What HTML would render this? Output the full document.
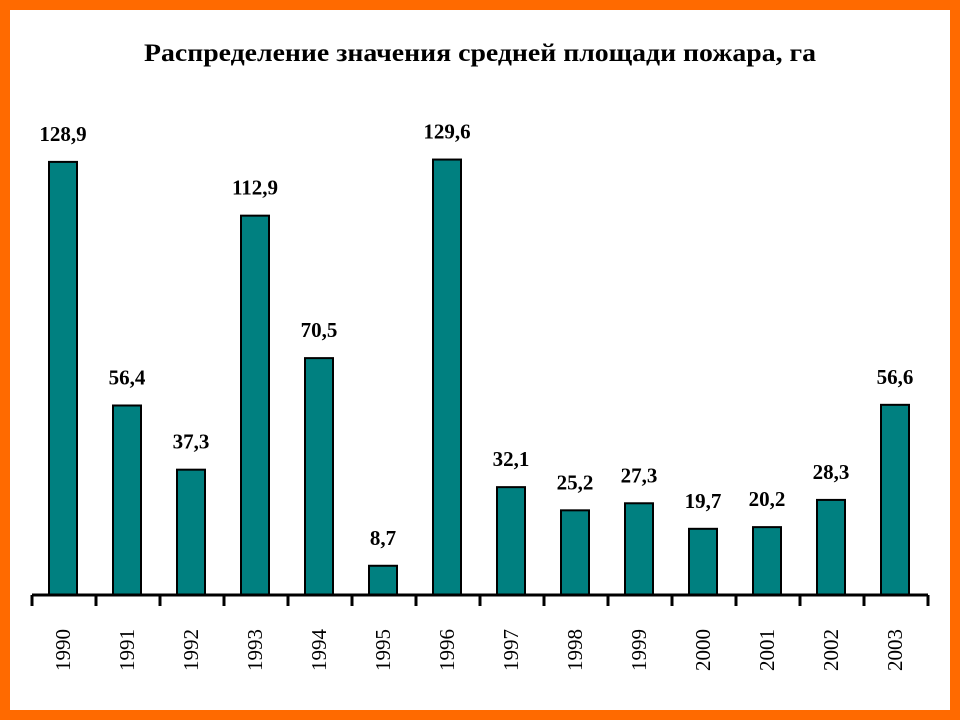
<!DOCTYPE html>
<html><head><meta charset="utf-8"><style>
html,body{margin:0;padding:0}
body{width:960px;height:720px;background:#FF6a00;position:relative;overflow:hidden}
#panel{position:absolute;left:10px;top:10px;width:940px;height:700px;background:#fff}
svg{position:absolute;left:0;top:0}
</style></head><body>
<div id="panel"></div>
<svg id="chart" width="960" height="720">
<text x="480" y="61" text-anchor="middle" font-family="Liberation Serif, serif" font-weight="bold" font-size="25" textLength="672" lengthAdjust="spacingAndGlyphs">Распределение значения средней площади пожара, га</text>
</svg>
<script>
const years = ["1990","1991","1992","1993","1994","1995","1996","1997","1998","1999","2000","2001","2002","2003"];
const values = [128.9,56.4,37.3,112.9,70.5,8.7,129.6,32.1,25.2,27.3,19.7,20.2,28.3,56.6];
const valueLabels = ["128,9","56,4","37,3","112,9","70,5","8,7","129,6","32,1","25,2","27,3","19,7","20,2","28,3","56,6"];
const svg = document.getElementById('chart');
const NS = 'http://www.w3.org/2000/svg';
const x0 = 32, step = 64, baseY = 595, scale = 3.36, barW = 28;
const xCenter = i => x0 + step * i + step / 2 - 1;
const yPos = v => baseY - v * scale;
function mk(tag, attrs){const e=document.createElementNS(NS,tag);for(const k in attrs)e.setAttribute(k,attrs[k]);svg.appendChild(e);return e;}
years.forEach((yr,i)=>{
  const cx = xCenter(i), top = yPos(values[i]);
  const r = mk('rect',{x:cx-barW/2,y:top,width:barW,height:baseY-top,fill:'#008080',stroke:'#000','stroke-width':2});
  
  
  const t = mk('text',{x:cx,y:top-21,'text-anchor':'middle','font-family':'Liberation Serif, serif','font-weight':'bold','font-size':21});
  t.textContent = valueLabels[i];
  
  
  const yl = mk('text',{x:0,y:0,'text-anchor':'middle','font-family':'Liberation Serif, serif','font-size':21,transform:'translate('+(cx+7)+',650) rotate(-90)'});
  yl.textContent = yr;
  
  
});
const ax = mk('line',{x1:x0,y1:baseY,x2:x0+step*years.length,y2:baseY,stroke:'#000','stroke-width':3});


for(let i=0;i<=years.length;i++){
  const tk = mk('line',{x1:x0+step*i,y1:baseY,x2:x0+step*i,y2:606,stroke:'#000','stroke-width':3});
  
  
}
</script>
</body></html>
